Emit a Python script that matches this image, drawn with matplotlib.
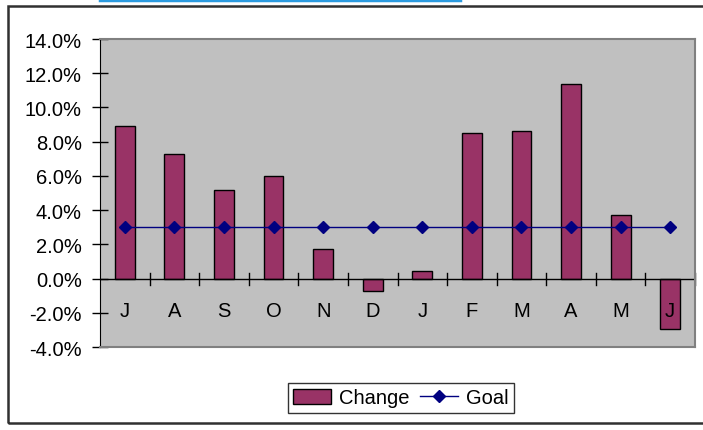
import matplotlib.pyplot as plt
from matplotlib.patches import Rectangle
from matplotlib.lines import Line2D
from matplotlib.ticker import FuncFormatter, MultipleLocator

plt.rcParams['font.family'] = ['Liberation Sans', 'DejaVu Sans']

months = ['J', 'A', 'S', 'O', 'N', 'D', 'J', 'F', 'M', 'A', 'M', 'J']
change = [8.9, 7.3, 5.2, 6.0, 1.7, -0.7, 0.45, 8.5, 8.65, 11.35, 3.7, -2.95]
goal = [3.0] * 12

fs = 14.5

fig = plt.figure(figsize=(7.03, 4.31), dpi=100)

# outer chart frame and the blue rule above it
fig.add_artist(Rectangle((8 / 703, 1 - 424 / 431), 1.0, (424 - 7) / 431,
                         transform=fig.transFigure, fill=False,
                         edgecolor='#303030', linewidth=1.8))
fig.add_artist(Line2D([100 / 703, 460 / 703], [1 - 1 / 431, 1 - 1 / 431],
                      transform=fig.transFigure, color='#2b9be0', linewidth=2.5))

ax = fig.add_axes([100 / 703, 1 - 348 / 431, 595 / 703, 308 / 431])
ax.set_facecolor('#c0c0c0')

x = list(range(len(months)))
bars = ax.bar(x, change, width=0.4, color='#993366', edgecolor='black',
              linewidth=1, label='Change', zorder=2)
line, = ax.plot(x, goal, color='#000080', marker='D', markersize=6,
                linewidth=1, label='Goal', zorder=3)

ax.set_xlim(-0.5, len(months) - 0.5)
ax.set_ylim(-4, 14)
ax.yaxis.set_major_locator(MultipleLocator(2))
ax.yaxis.set_major_formatter(FuncFormatter(lambda v, p: f'{v:.1f}%'))
ax.tick_params(axis='y', direction='inout', length=12, width=1,
               labelsize=fs, pad=7)

# category axis crosses at zero, ticks between months
ax.axhline(0, color='black', linewidth=1, zorder=2.5)
ax.set_xticks([i + 0.5 for i in x[:-1]])
ax.tick_params(axis='x', length=0, labelbottom=False)
for i in x[:-1]:
    ax.plot([i + 0.5, i + 0.5], [-0.35, 0.35], color='black', linewidth=1,
            zorder=2.5)
ax.plot([x[-1] + 0.5] * 2, [-0.35, 0.35], color='black', linewidth=1,
        zorder=2.5, clip_on=False)
for i, m in enumerate(months):
    ax.text(i, -1.85, m, ha='center', va='center', fontsize=fs, zorder=4)

for side in ['top', 'right', 'bottom']:
    ax.spines[side].set_color('#808080')
    ax.spines[side].set_linewidth(1.5)
ax.spines['left'].set_color('black')

leg = ax.legend([bars, line], ['Change', 'Goal'], loc='center',
                bbox_to_anchor=(401 / 703, 1 - 399 / 431),
                bbox_transform=fig.transFigure, ncol=2, fontsize=fs,
                frameon=True, fancybox=False, edgecolor='black',
                handlelength=1.9, handletextpad=0.4, columnspacing=0.5,
                borderpad=0.25)
leg.get_frame().set_linewidth(1)

fig.savefig('out.png', dpi=100, facecolor='white')
